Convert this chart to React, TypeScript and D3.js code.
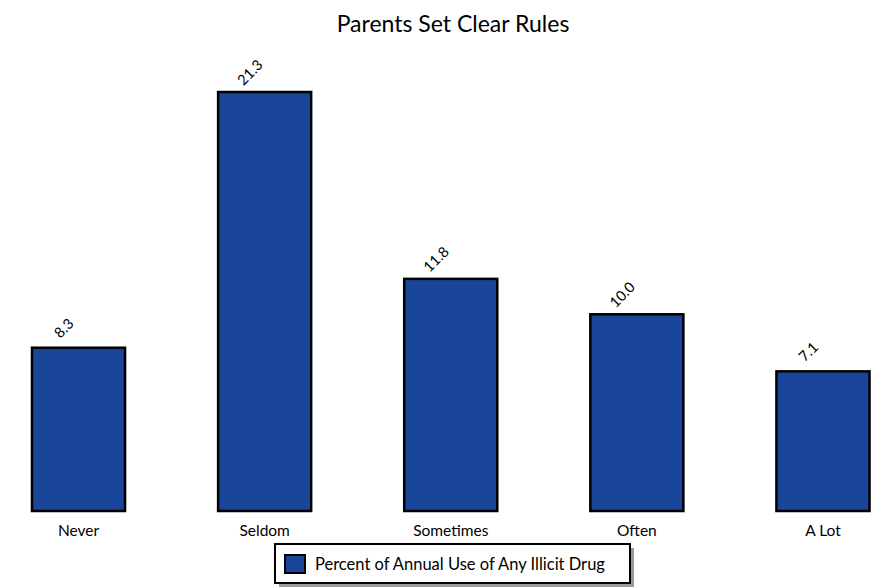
import React from "react";
import * as d3 from "d3";

const categories = ["Never", "Seldom", "Sometimes", "Often", "A Lot"];
const values = [8.3, 21.3, 11.8, 10.0, 7.1];
const seriesName = "Percent of Annual Use of Any Illicit Drug";
const title = "Parents Set Clear Rules";

const W = 878;
const H = 587;
const FONT = "Lato, 'Open Sans', sans-serif";
const BLUE = "#19469a";

export default function App() {
  const x = d3.scaleBand<string>().domain(categories).range([32, 869.5]).paddingInner(0.5).paddingOuter(0);
  const y = d3.scaleLinear().domain([0, 21.3]).range([511, 92]);
  const fmt = d3.format(".1f");

  return (
    <svg width={W} height={H} style={{ position: "absolute", left: 0, top: 0, background: "#fff" }}>
      <text x={453} y={32} textAnchor="middle" fontFamily={FONT} fontSize={23} fill="#000">
        {title}
      </text>
      {categories.map((c, i) => {
        const bx = x(c)!;
        const bw = x.bandwidth();
        const by = y(values[i]);
        const cx = bx + bw / 2;
        const lx = cx - 11;
        const ly = by - 16;
        return (
          <g key={c}>
            <rect x={bx} y={by} width={bw} height={y(0) - by} fill={BLUE} stroke="#000" strokeWidth={2.5} />
            <text
              x={lx}
              y={ly}
              textAnchor="middle"
              fontFamily={FONT}
              fontSize={14.5}
              transform={`rotate(-45 ${lx} ${ly})`}
              fill="#000"
            >
              {fmt(values[i])}
            </text>
            <text x={cx} y={536} textAnchor="middle" fontFamily={FONT} fontSize={15.5} fill="#000">
              {c}
            </text>
          </g>
        );
      })}
      <g>
        <rect x={279} y={548} width={355} height={39} fill="#999" />
        <rect x={275} y={544} width={355} height={39} fill="#fff" stroke="#000" strokeWidth={2} />
        <rect x={285} y={555} width={20} height={18} fill={BLUE} stroke="#000" strokeWidth={2} />
        <text x={315} y={570} fontFamily={FONT} fontSize={16.5} fill="#000">
          {seriesName}
        </text>
      </g>
    </svg>
  );
}
